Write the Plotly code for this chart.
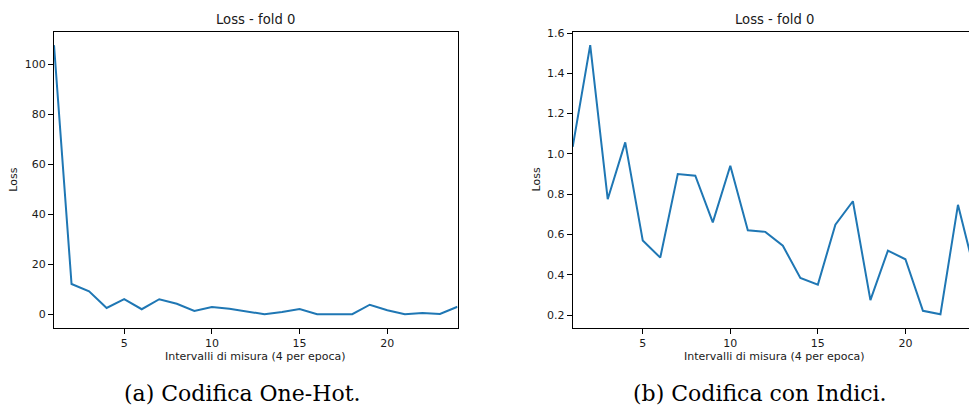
import plotly.graph_objects as go

# Loss per measurement interval (4 per epoch), fold 0
steps = list(range(1, 25))
loss_onehot = [107.6, 12.1, 9.2, 2.5, 6.0, 2.0, 6.0, 4.2, 1.3, 2.9, 2.2, 1.0,
               0.0, 0.9, 2.1, 0.0, 0.0, 0.0, 3.8, 1.6, 0.0, 0.5, 0.1, 3.0]
loss_indici = [1.035, 1.54, 0.775, 1.057, 0.570, 0.485, 0.900, 0.892, 0.660, 0.941,
               0.621, 0.613, 0.544, 0.384, 0.351, 0.649, 0.765, 0.274, 0.520, 0.477,
               0.221, 0.204, 0.747, 0.40]

left_yticks = [0, 20, 40, 60, 80, 100]
right_yticks = [0.2, 0.4, 0.6, 0.8, 1.0, 1.2, 1.4, 1.6]
xticks = [5, 10, 15, 20]

title_text = "Loss - fold 0"
xlabel_text = "Intervalli di misura (4 per epoca)"
ylabel_text = "Loss"
captions = ["(a) Codifica One-Hot.", "(b) Codifica con Indici."]

W, H = 969, 408
LINE = "#1f77b4"
INK = "#1a1a1a"
SANS = "DejaVu Sans"
SERIF = "DejaVu Serif"


def padded(vals, frac=0.05):
    lo, hi = min(vals), max(vals)
    pad = (hi - lo) * frac
    return [lo - pad, hi + pad]


fig = go.Figure()
fig.add_trace(go.Scatter(x=steps, y=loss_onehot, mode="lines",
                         line=dict(color=LINE, width=2), xaxis="x", yaxis="y",
                         showlegend=False))
fig.add_trace(go.Scatter(x=steps, y=loss_indici, mode="lines",
                         line=dict(color=LINE, width=2), xaxis="x2", yaxis="y2",
                         showlegend=False))

y_dom = [1 - 326.7 / H, 1 - 27 / H]
axis_common = dict(showgrid=False, zeroline=False, showline=True, linecolor="black",
                   linewidth=1, ticks="outside", ticklen=5, tickwidth=1,
                   tickcolor="black", tickfont=dict(family=SANS, size=11, color=INK))

fig.update_layout(
    width=W, height=H, margin=dict(l=0, r=0, t=0, b=0),
    paper_bgcolor="white", plot_bgcolor="white",
    xaxis=dict(domain=[54 / W, 457.5 / W], range=[1, 24], tickvals=xticks,
               mirror=True, anchor="y", **axis_common),
    yaxis=dict(domain=y_dom, range=padded(loss_onehot), tickvals=left_yticks,
               mirror=True, anchor="x", **axis_common),
    xaxis2=dict(domain=[572.7 / W, 1.0], range=[1, 23.63], tickvals=xticks,
                mirror=True, anchor="y2", **axis_common),
    yaxis2=dict(domain=y_dom, range=padded(loss_indici), tickvals=right_yticks,
                tickformat=".1f", mirror=False, anchor="x2", **axis_common),
)

ann = []
label_font = dict(family=SANS, size=11, color=INK)
title_font = dict(family=SANS, size=13.2, color=INK)
# Titles and x labels centred on each full axis span (1..24)
for xr in ("x", "x2"):
    ann.append(dict(text=title_text, xref=xr, x=12.5, yref="paper", y=1 - 15 / H,
                    xanchor="center", yanchor="middle", showarrow=False, font=title_font))
    ann.append(dict(text=xlabel_text, xref=xr, x=12.5, yref="paper", y=1 - 355.5 / H,
                    xanchor="center", yanchor="middle", showarrow=False, font=label_font))
for px in (14, 536.7):
    ann.append(dict(text=ylabel_text, xref="paper", x=px / W, yref="paper",
                    y=(y_dom[0] + y_dom[1]) / 2, textangle=-90, xanchor="center",
                    yanchor="middle", showarrow=False, font=label_font))
for cap, px in zip(captions, (242, 760)):
    ann.append(dict(text=cap, xref="paper", x=px / W, yref="paper", y=1 - 393 / H,
                    xanchor="center", yanchor="middle", showarrow=False,
                    font=dict(family=SERIF, size=22, color="black")))
fig.update_layout(annotations=ann)

fig.write_html("out.html")
